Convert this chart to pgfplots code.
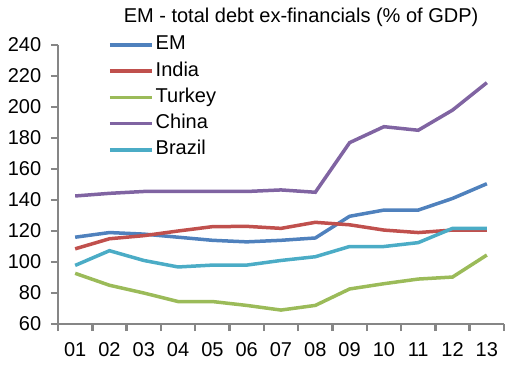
\documentclass[border=0pt]{standalone}
\usepackage{fontspec}
\setmainfont{Liberation Sans}
\usepackage{pgfplots}
\pgfplotsset{compat=1.18}
\definecolor{cEM}{HTML}{4F81BD}
\definecolor{cIN}{HTML}{C0504D}
\definecolor{cTR}{HTML}{9BBB59}
\definecolor{cCN}{HTML}{8064A2}
\definecolor{cBR}{HTML}{4BACC6}
\definecolor{axgray}{HTML}{868686}
\begin{document}
\fontsize{20}{24}\selectfont
\begin{tikzpicture}
\useasboundingbox (-58pt,-41pt) rectangle (460pt,324pt);
\begin{axis}[
  at={(0,0)}, anchor=south west,
  scale only axis, width=446pt, height=279pt,
  xmin=0.5, xmax=13.5, ymin=60, ymax=240,
  axis x line*=bottom, axis y line*=left,
  axis line style={draw=axgray, line width=2.5pt},
  xtick={1,...,13},
  xticklabels={01,02,03,04,05,06,07,08,09,10,11,12,13},
  major x tick style={draw=none},
  minor xtick={0.5,1.5,...,13.5},
  minor tick length=7pt,
  minor x tick style={draw=axgray, line width=2.5pt},
  ytick={60,80,...,240},
  major tick length=7pt,
  y tick style={draw=axgray, line width=2.5pt},
  tick align=outside,
  xtick pos=bottom, ytick pos=left,
  /pgf/number format/assume math mode=true,
  ticklabel style={font=\fontsize{20}{24}\selectfont},
  xticklabel style={yshift=-5pt},
  yticklabel style={xshift=-3pt},
  every axis plot/.append style={line width=3.5pt, no markers},
  clip=false,
  legend cell align=left,
  legend image code/.code={\draw[line width=3.5pt] (0pt,0pt) -- (42pt,0pt);},
  legend style={draw=none, fill=none, at={(0.1054,1.041)}, anchor=north west,
    font=\fontsize{20}{24}\selectfont,
    nodes={inner sep=0pt, text height=14pt, text depth=4pt},
    row sep=8.3pt, column sep=2pt},
]
\addplot[cEM] coordinates {(1,116)(2,119)(3,118)(4,116)(5,114)(6,113)(7,114)(8,115.5)(9,129.5)(10,133.5)(11,133.5)(12,141)(13,150.5)};
\addlegendentry{EM}
\addplot[cIN] coordinates {(1,108.5)(2,115)(3,117)(4,120)(5,122.8)(6,123)(7,121.7)(8,125.6)(9,124)(10,120.6)(11,119)(12,120.6)(13,120.6)};
\addlegendentry{India}
\addplot[cTR] coordinates {(1,92.7)(2,85)(3,80)(4,74.5)(5,74.5)(6,72)(7,69)(8,72)(9,82.6)(10,86)(11,89)(12,90.3)(13,104.5)};
\addlegendentry{Turkey}
\addplot[cCN] coordinates {(1,142.6)(2,144.3)(3,145.5)(4,145.5)(5,145.5)(6,145.5)(7,146.5)(8,145)(9,177)(10,187.3)(11,185)(12,198)(13,215.7)};
\addlegendentry{China}
\addplot[cBR] coordinates {(1,97.8)(2,107.3)(3,101)(4,96.8)(5,98)(6,98)(7,101)(8,103.4)(9,110)(10,110)(11,112.5)(12,121.7)(13,121.7)};
\addlegendentry{Brazil}
\node[anchor=base, inner sep=0pt, font=\fontsize{20}{24}\selectfont] at (rel axis cs:0.545,1.0824) {EM - total debt ex-financials (\% of GDP)};
\end{axis}
\end{tikzpicture}
\end{document}
